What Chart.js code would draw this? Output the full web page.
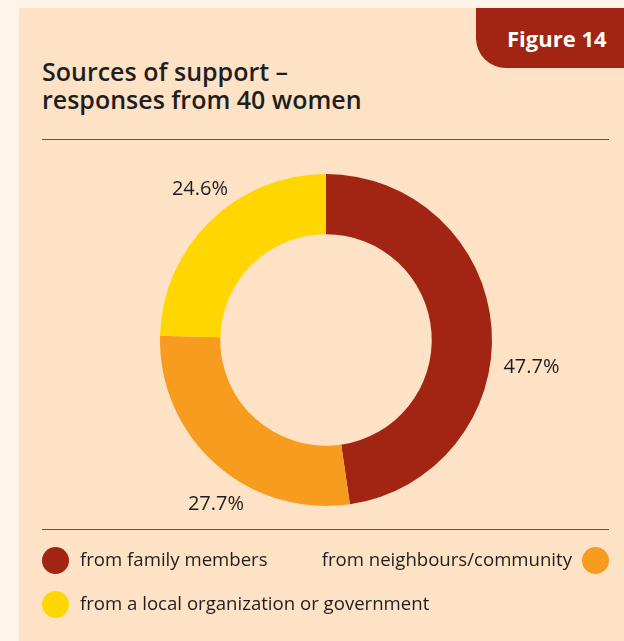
<!DOCTYPE html>
<html>
<head>
<meta charset="utf-8">
<script src="https://cdn.jsdelivr.net/npm/chart.js@4"></script>
<style>
  html, body { margin: 0; padding: 0; }
  body {
    width: 624px; height: 641px; overflow: hidden; position: relative;
    background: #fef4ea; font-family: "Open Sans", sans-serif; color: #1e1e1e;
  }
  .panel { position: absolute; left: 19px; top: 8px; width: 605px; height: 633px; background: #fee2c5; }
  .tab {
    position: absolute; left: 476px; top: 8px; width: 148px; height: 60px;
    background: #a22412; border-bottom-left-radius: 30px;
  }
  .tab span {
    position: absolute; left: 31px; top: 16px; font-size: 22px; font-weight: 700;
    color: #fff; line-height: 28px; white-space: nowrap;
  }
  .title {
    position: absolute; left: 42px; top: 57px; font-size: 25px; font-weight: 600;
    line-height: 28px; white-space: nowrap;
  }
  .rule { position: absolute; left: 42px; width: 567px; height: 1px; background: #a93a22; }
  #chart { position: absolute; left: 0; top: 0; }
  .legend .item { position: absolute; font-size: 18.6px; line-height: 28px; white-space: nowrap; }
  .legend .dot { position: absolute; width: 27px; height: 27px; border-radius: 50%; }
</style>
</head>
<body>
<div class="panel"></div>
<div class="tab"><span>Figure 14</span></div>
<div class="title">Sources of support –<br>responses from 40 women</div>
<div class="rule" style="top:139px"></div>
<div class="rule" style="top:529px"></div>
<canvas id="chart" width="624" height="641"></canvas>
<div class="legend" id="legend"></div>

<script>
// Sources of support (share of responses, %)
const categories = ['from family members', 'from neighbours/community', 'from a local organization or government'];
const shares = [47.7, 27.7, 24.6];
const colors = ['#a22412', '#f89c20', '#ffd600'];

// Label nudges relative to the radial anchor outside each arc
const labelNudge = [[4, 42], [24, 13], [15, -6]];

// Legend layout: [dot centre x, row centre y, text side]
const legendSlots = [[55, 560, 'right'], [595, 560, 'left'], [55, 604, 'right']];

const outsideLabels = {
  id: 'outsideLabels',
  afterDatasetsDraw(chart) {
    const ctx = chart.ctx;
    const meta = chart.getDatasetMeta(0);
    ctx.save();
    ctx.font = '20px "Open Sans", sans-serif';
    ctx.fillStyle = '#1e1e1e';
    ctx.textAlign = 'center';
    ctx.textBaseline = 'middle';
    meta.data.forEach((arc, i) => {
      const p = arc.getProps(['x', 'y', 'startAngle', 'endAngle', 'outerRadius'], true);
      const mid = (p.startAngle + p.endAngle) / 2;
      const r = p.outerRadius + 36;
      const x = p.x + Math.cos(mid) * r + labelNudge[i][0];
      const y = p.y + Math.sin(mid) * r + labelNudge[i][1];
      ctx.fillText(shares[i].toFixed(1) + '%', x, y);
    });
    ctx.restore();
  }
};

new Chart(document.getElementById('chart'), {
  type: 'doughnut',
  data: {
    labels: categories,
    datasets: [{
      data: shares,
      backgroundColor: colors,
      borderWidth: 0
    }]
  },
  options: {
    responsive: false,
    animation: false,
    devicePixelRatio: 1,
    cutout: '63.7%',
    layout: { padding: { left: 160, top: 174, right: 132, bottom: 135 } },
    plugins: {
      legend: { display: false },
      tooltip: { enabled: false }
    }
  },
  plugins: [outsideLabels]
});

// HTML legend built from the same arrays
const legend = document.getElementById('legend');
categories.forEach((name, i) => {
  const [cx, cy, side] = legendSlots[i];
  const dot = document.createElement('div');
  dot.className = 'dot';
  dot.style.left = (cx - 13.5) + 'px';
  dot.style.top = (cy - 13.5) + 'px';
  dot.style.background = colors[i];
  legend.appendChild(dot);

  const item = document.createElement('div');
  item.className = 'item';
  item.textContent = name;
  item.style.top = (cy - 15) + 'px';
  if (side === 'right') {
    item.style.left = (cx + 25) + 'px';
  } else {
    item.style.right = (624 - cx + 23) + 'px';
  }
  legend.appendChild(item);
});
</script>
</body>
</html>
